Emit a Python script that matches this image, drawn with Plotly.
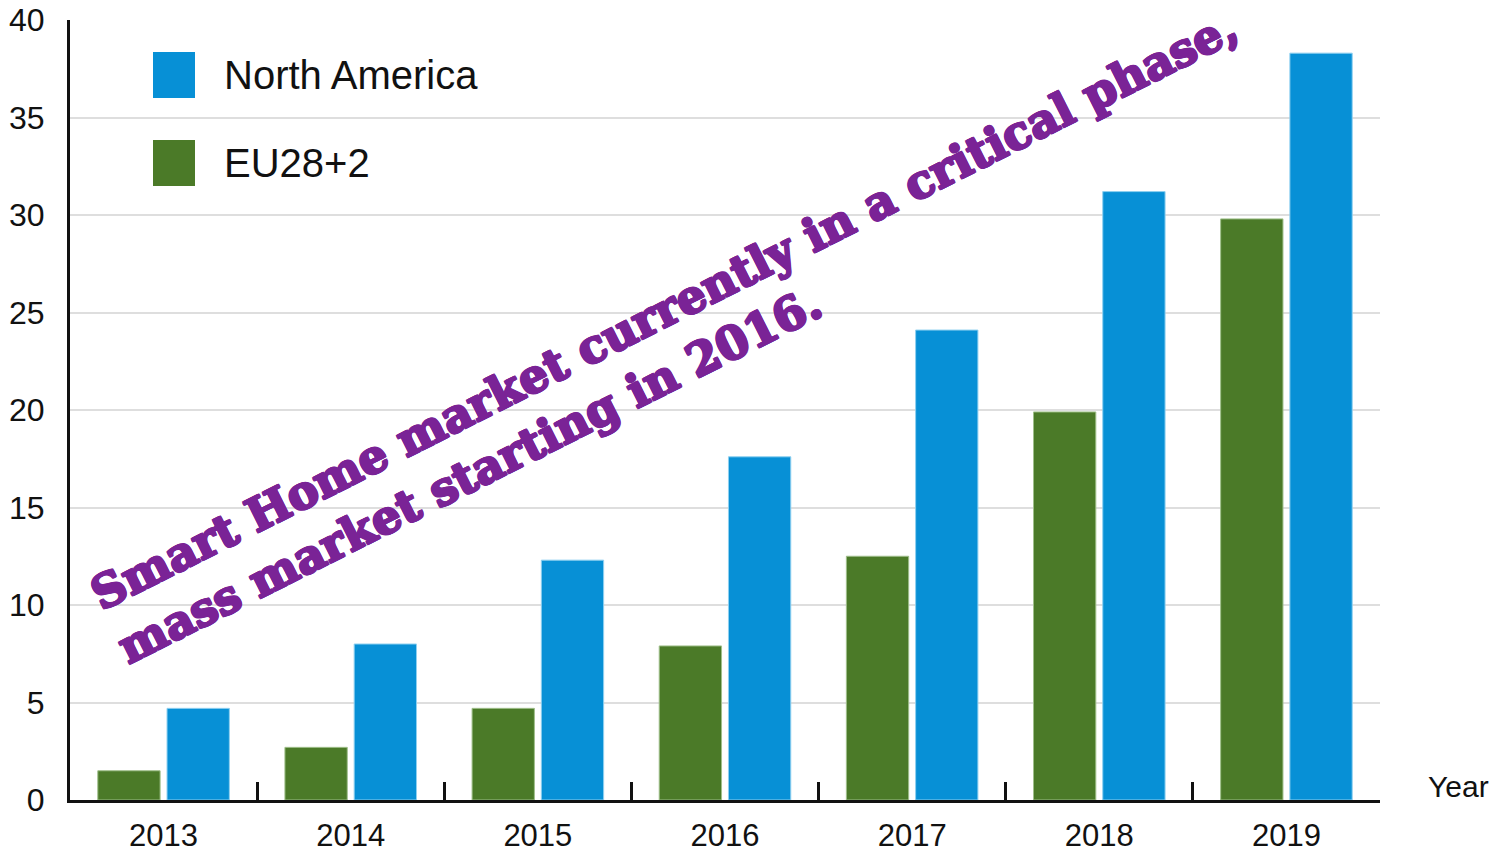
import plotly.graph_objects as go

years = ["2013", "2014", "2015", "2016", "2017", "2018", "2019"]
eu_values = [1.5, 2.7, 4.7, 7.9, 12.5, 19.9, 29.8]
na_values = [4.7, 8.0, 12.3, 17.6, 24.1, 31.2, 38.3]
y_ticks = [0, 5, 10, 15, 20, 25, 30, 35, 40]

eu_name = "EU28+2"
na_name = "North America"
eu_color = "#4b7a28"
na_color = "#0790d6"
text_color = "#7a2396"
headline = "Smart Home market currently in a critical phase,<br>mass market starting in 2016."

fig = go.Figure()
fig.add_trace(go.Bar(x=years, y=eu_values, name=eu_name,
                     marker=dict(color=eu_color, line=dict(color="#9fbf8a", width=1))))
fig.add_trace(go.Bar(x=years, y=na_values, name=na_name,
                     marker=dict(color=na_color, line=dict(color="#8fd0f0", width=1))))

font_family = "Liberation Sans, Arial, sans-serif"

fig.update_layout(
    width=1498, height=854,
    margin=dict(l=70, r=118, t=20, b=54, autoexpand=False),
    paper_bgcolor="white", plot_bgcolor="white",
    barmode="group", bargap=0.26, bargroupgap=0.1,
    showlegend=False,
    font=dict(family=font_family, color="#111111", size=32),
    xaxis=dict(
        type="category", showline=True, linecolor="#111111", linewidth=3,
        ticks="inside", tickson="boundaries", ticklen=18, tickwidth=2.5, tickcolor="#111111",
        showgrid=False, tickfont=dict(size=31), ticklabelstandoff=6, automargin=False,
    ),
    yaxis=dict(
        range=[0, 40], tickvals=y_ticks, showline=True, linecolor="#111111", linewidth=3,
        showgrid=True, gridcolor="#dedede", gridwidth=2, zeroline=False,
        ticks="", tickfont=dict(size=32), ticklabelstandoff=16, automargin=False,
    ),
)

# legend swatches and labels
legend_items = [(na_name, na_color, (800 - 75) / 780), (eu_name, eu_color, (800 - 163) / 780)]
for name, color, yc in legend_items:
    fig.add_shape(type="rect", xref="paper", yref="paper",
                  x0=(153 - 70) / 1310, x1=(195 - 70) / 1310,
                  y0=yc - 23 / 780, y1=yc + 23 / 780,
                  fillcolor=color, line=dict(width=0), layer="above")
    fig.add_annotation(text=name, xref="paper", yref="paper",
                       x=(222 - 70) / 1310, y=yc, xanchor="left", yanchor="middle",
                       showarrow=False, font=dict(size=40, family=font_family, color="#111111"))

fig.add_annotation(text="Year", xref="paper", yref="paper", x=1.0 + (1426 - 1380) / 1310,
                   y=(800 - 786) / 780, xanchor="left", yanchor="middle", showarrow=False,
                   font=dict(size=30, family=font_family, color="#111111"))

stroke = ", ".join(f"{dx}px {dy}px 0 {text_color}" for dx, dy in
                   [(1, 0), (-1, 0), (0, 1), (0, -1), (1, 1), (-1, -1), (1, -1), (-1, 1)])
fig.add_annotation(text=headline, xref="paper", yref="paper", x=0.464, y=0.593,
                   xanchor="center", yanchor="middle", align="left", showarrow=False,
                   textangle=-26.7,
                   font=dict(size=46, family="DejaVu Serif", color=text_color, weight="bold",
                             shadow=stroke))

fig.write_html("out.html", config={"displayModeBar": False},
               post_script="document.body.style.margin='0';")
